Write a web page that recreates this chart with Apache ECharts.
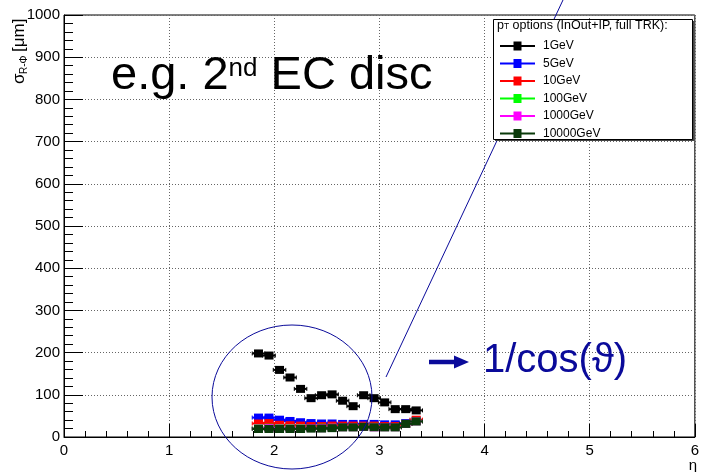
<!DOCTYPE html>
<html>
<head>
<meta charset="utf-8">
<script src="https://cdn.jsdelivr.net/npm/echarts@6/dist/echarts.min.js"></script>
<style>
  html, body { margin: 0; padding: 0; background: #fff; }
  #chart { width: 702px; height: 472px; }
</style>
</head>
<body>
<div id="chart"></div>
<script>
// Pseudorapidity bin centres (bin width 0.1)
const eta = [1.85, 1.95, 2.05, 2.15, 2.25, 2.35, 2.45, 2.55, 2.65, 2.75, 2.85, 2.95, 3.05, 3.15, 3.25, 3.35];
const halfWidth = 0.05;

// sigma_{R-phi} [um] per pT option
const pt1GeV     = [198, 193, 159, 141, 114, 92, 99, 101, 86, 73, 99, 92, 82, 66, 66, 63];
const pt5GeV     = [46, 46, 41, 38, 35, 33, 32, 32, 31, 31, 31, 31, 30, 30, 33, 39];
const pt10GeV    = [32, 33, 29, 28, 27, 26, 26, 27, 27, 27, 27, 27, 26, 26, 31, 41];
const pt100GeV   = [21, 22, 21, 21, 21, 21, 22, 22, 23, 23, 24, 24, 23, 23, 31, 37];
const pt1000GeV  = [20, 21, 20, 20, 20, 21, 21, 22, 23, 23, 24, 23, 23, 23, 31, 37];
const pt10000GeV = [19, 19, 19, 19, 19, 20, 20, 21, 23, 23, 24, 23, 23, 23, 31, 37];

const seriesNames  = ['1GeV', '5GeV', '10GeV', '100GeV', '1000GeV', '10000GeV'];
const seriesValues = [pt1GeV, pt5GeV, pt10GeV, pt100GeV, pt1000GeV, pt10000GeV];
const seriesColors = ['#000000', '#0000ff', '#ff0000', '#00ff00', '#ff00ff', '#0a3a0a'];

const xTicks = [0, 1, 2, 3, 4, 5, 6];
const yTicks = [0, 100, 200, 300, 400, 500, 600, 700, 800, 900, 1000];

const FONT = "'Liberation Sans', Arial, Helvetica, sans-serif";
const NAVY = '#0a0a9a';

// Marker with horizontal error bar spanning the bin
function makeRenderer(color) {
  return function (params, api) {
    const x = api.value(0), y = api.value(1);
    const c = api.coord([x, y]);
    const l = api.coord([x - halfWidth, y]);
    const r = api.coord([x + halfWidth, y]);
    return {
      type: 'group',
      children: [
        { type: 'line', shape: { x1: l[0] - 1, y1: c[1], x2: r[0] + 1, y2: c[1] },
          style: { stroke: color, lineWidth: 2 } },
        { type: 'line', shape: { x1: l[0] - 1, y1: c[1] - 2, x2: l[0] - 1, y2: c[1] + 2 },
          style: { stroke: color, lineWidth: 1 } },
        { type: 'line', shape: { x1: r[0] + 1, y1: c[1] - 2, x2: r[0] + 1, y2: c[1] + 2 },
          style: { stroke: color, lineWidth: 1 } },
        { type: 'rect', shape: { x: c[0] - 4.5, y: c[1] - 4, width: 9, height: 8 },
          style: { fill: color } }
      ]
    };
  };
}

const series = seriesNames.map((name, i) => ({
  name: name,
  type: 'custom',
  renderItem: makeRenderer(seriesColors[i]),
  itemStyle: { color: seriesColors[i] },
  data: eta.map((e, j) => [e, seriesValues[i][j]]),
  z: 3 + i,
  silent: true
}));

const chart = echarts.init(document.getElementById('chart'), null, { renderer: 'canvas' });

chart.setOption({
  animation: false,
  backgroundColor: '#ffffff',
  textStyle: { fontFamily: FONT },
  grid: { left: 64, right: 4, top: 15, bottom: 35, show: true, borderColor: '#000', borderWidth: 1, backgroundColor: 'transparent' },
  xAxis: {
    type: 'value', min: xTicks[0], max: xTicks[xTicks.length - 1], interval: 1,
    axisLine: { lineStyle: { color: '#000', width: 1 } },
    axisTick: { inside: true, length: 13, lineStyle: { color: '#000' } },
    minorTick: { show: true, splitNumber: 5, length: 6, lineStyle: { color: '#000' } },
    splitLine: { show: true, lineStyle: { color: '#666', type: [1, 2], width: 1 } },
    axisLabel: { color: '#000', fontSize: 15, margin: 6, fontFamily: FONT, formatter: v => String(v) }
  },
  yAxis: {
    type: 'value', min: yTicks[0], max: yTicks[yTicks.length - 1], interval: 100,
    axisLine: { show: true, lineStyle: { color: '#000', width: 1 } },
    axisTick: { show: true, inside: true, length: 19, lineStyle: { color: '#000' } },
    minorTick: { show: true, splitNumber: 5, length: 9, lineStyle: { color: '#000' } },
    splitLine: { show: true, lineStyle: { color: '#666', type: [1, 2], width: 1 } },
    axisLabel: { color: '#000', fontSize: 15, margin: 4, fontFamily: FONT, formatter: v => String(v) }
  },
  legend: {
    show: true,
    orient: 'vertical',
    left: 500, top: 40,
    padding: 0,
    itemWidth: 35, itemHeight: 9, itemGap: 5.5,
    selectedMode: false,
    icon: 'path://M0,3.5H35V5.5H0Z M13.5,0H21.5V9H13.5Z',
    textStyle: { fontSize: 12, color: '#000', fontFamily: FONT, padding: [0, 0, 0, 3] },
    data: seriesNames,
    z: 20
  },
  graphic: [
    // legend frame with shadow
    { type: 'rect', z: 15, shape: { x: 495, y: 21, width: 199, height: 120 }, style: { fill: '#444' } },
    { type: 'rect', z: 16, shape: { x: 493.5, y: 19.5, width: 199, height: 120 }, style: { fill: '#fff', stroke: '#000', lineWidth: 1 } },
    { type: 'text', z: 17, x: 497, y: 35, style: {
        text: '{a|p}{b|T}{a| options (InOut+IP, full TRK):}',
        verticalAlign: 'bottom', fill: '#000', fontFamily: FONT,
        rich: { a: { fontSize: 12.5, fontFamily: FONT, padding: [0, 0, 3, 0] },
                b: { fontSize: 8.5, fontFamily: FONT } } } },
    // panel caption
    { type: 'text', z: 10, x: 111, y: 100, style: {
        text: '{a|e.g. 2}{s|nd}{a| EC disc}',
        verticalAlign: 'bottom', fill: '#000', fontFamily: FONT,
        rich: { a: { fontSize: 47, fontFamily: FONT },
                s: { fontSize: 26, fontFamily: FONT, padding: [0, 0, 15, 0] } } } },
    // y axis title, reading bottom to top
    { type: 'group', z: 10, x: 26, y: 84, rotation: Math.PI / 2, children: [
      { type: 'text', x: 0, y: -7, style: { text: 'σ', fontSize: 17, fontFamily: FONT, fill: '#000', align: 'left', verticalAlign: 'middle' } },
      { type: 'text', x: 10, y: -2, style: { text: 'R-Φ', fontSize: 10, fontFamily: FONT, fill: '#000', align: 'left', verticalAlign: 'middle' } },
      { type: 'text', x: 32, y: -7, style: { text: '[μm]', fontSize: 17, fontFamily: FONT, fill: '#000', align: 'left', verticalAlign: 'middle' } }
    ] },
    // x axis title
    { type: 'text', z: 10, x: 693, y: 466, style: { text: 'η', fontSize: 15, fontFamily: FONT, fill: '#000', align: 'center', verticalAlign: 'middle' } },
    // highlight ellipse around the endcap points
    { type: 'ellipse', z: 12, shape: { cx: 292, cy: 397, rx: 80, ry: 72 }, style: { fill: 'none', stroke: NAVY, lineWidth: 1 } },
    // pointer line
    { type: 'line', z: 12, shape: { x1: 386, y1: 377, x2: 563, y2: 0 }, style: { stroke: NAVY, lineWidth: 1 } },
    // arrow to the scaling note
    { type: 'line', z: 12, shape: { x1: 429, y1: 362, x2: 457, y2: 362 }, style: { stroke: NAVY, lineWidth: 4.5 } },
    { type: 'polygon', z: 12, shape: { points: [[454, 355.5], [469, 362], [454, 368.5]] }, style: { fill: NAVY } },
    { type: 'text', z: 12, x: 483, y: 361, style: { text: '1/cos(ϑ)', fontSize: 40, fontFamily: FONT, fill: NAVY, align: 'left', verticalAlign: 'middle' } }
  ],
  series: series
});
</script>
</body>
</html>
